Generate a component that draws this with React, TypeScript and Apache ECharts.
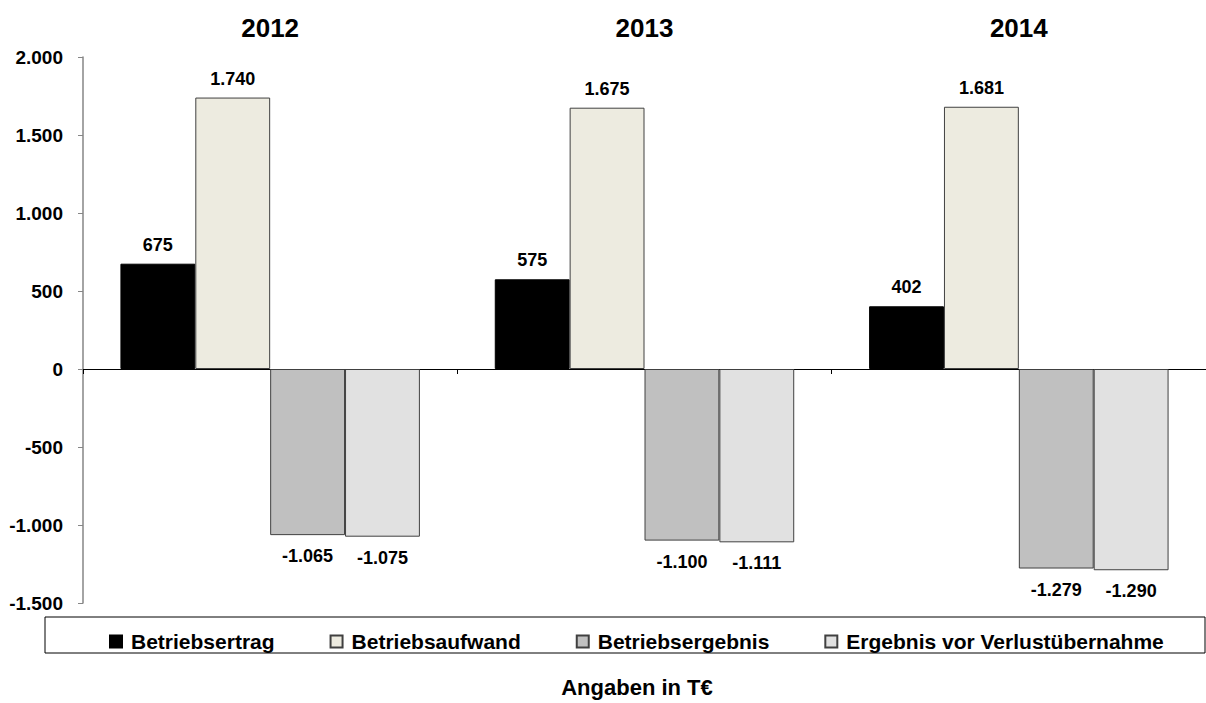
import React, { useEffect, useRef } from "react";
import * as echarts from "echarts";

const years = ["2012", "2013", "2014"];
const seriesNames = ["Betriebsertrag", "Betriebsaufwand", "Betriebsergebnis", "Ergebnis vor Verlustübernahme"];
const betriebsertrag = [675, 575, 402];
const betriebsaufwand = [1740, 1675, 1681];
const betriebsergebnis = [-1065, -1100, -1279];
const ergebnisVorVerlust = [-1075, -1111, -1290];
const seriesValues = [betriebsertrag, betriebsaufwand, betriebsergebnis, ergebnisVorVerlust];
const seriesColors = ["#000000", "#EDEBE0", "#C0C0C0", "#E1E1E1"];
const seriesBorders = ["#000000", "#404040", "#404040", "#404040"];

const FONT = "'Liberation Sans', Arial, sans-serif";

function fmt(v: number): string {
  const s = Math.abs(Math.round(v)).toString();
  const withDots = s.replace(/\B(?=(\d{3})+(?!\d))/g, ".");
  return (v < 0 ? "-" : "") + withDots;
}

export default function App() {
  const ref = useRef<HTMLDivElement>(null);
  useEffect(() => {
    if (!ref.current) return;
    const chart = echarts.init(ref.current, undefined, { renderer: "svg" });
    const series = seriesNames.map((name, i) => ({
      name,
      type: "bar",
      xAxisIndex: 0,
      barGap: "0%",
      barCategoryGap: "20%",
      itemStyle: { color: seriesColors[i], borderColor: seriesBorders[i], borderWidth: 1 },
      data: seriesValues[i].map((v) => ({
        value: v,
        label: { position: v < 0 ? "bottom" : "top", distance: v < 0 ? 12 : 10 },
      })),
      label: {
        show: true,
        fontFamily: FONT,
        fontWeight: "bold",
        fontSize: 18,
        color: "#000",
        formatter: (p: any) => fmt(p.value),
      },
    }));
    chart.setOption({
      animation: false,
      backgroundColor: "#ffffff",
      textStyle: { fontFamily: FONT },
      grid: { left: 83, right: 0, top: 57, bottom: 100 },
      legend: {
        data: seriesNames,
        top: 626,
        left: 104,
        itemWidth: 12,
        itemHeight: 12,
        itemGap: 55,
        icon: "rect",
        textStyle: { fontFamily: FONT, fontWeight: "bold", fontSize: 21, color: "#000", padding: [0, 0, 0, 4] },
      },
      graphic: [
        {
          type: "rect",
          shape: { x: 45, y: 617, width: 1160, height: 36 },
          style: { fill: "none", stroke: "#000", lineWidth: 1 },
          z: -1,
        },
        {
          type: "text",
          x: 637,
          y: 687,
          style: {
            text: "Angaben in T€",
            fontFamily: FONT,
            fontWeight: "bold",
            fontSize: 22,
            fill: "#000",
            align: "center",
            verticalAlign: "middle",
          },
        },
      ],
      xAxis: [
        {
          type: "category",
          data: years,
          position: "bottom",
          axisLine: { onZero: true, lineStyle: { color: "#000", width: 1 } },
          axisTick: { show: true, length: 5, lineStyle: { color: "#000" } },
          axisLabel: { show: false },
        },
        {
          type: "category",
          data: years,
          position: "top",
          axisLine: { show: false, onZero: false },
          axisTick: { show: false },
          axisLabel: {
            show: true,
            margin: 16,
            fontFamily: FONT,
            fontWeight: "bold",
            fontSize: 26,
            color: "#000",
          },
        },
      ],
      yAxis: {
        type: "value",
        min: -1500,
        max: 2000,
        interval: 500,
        splitLine: { show: false },
        axisLine: { show: true, lineStyle: { color: "#868686", width: 1.5 } },
        axisTick: { show: true, length: 5, lineStyle: { color: "#868686" } },
        axisLabel: {
          margin: 20,
          fontFamily: FONT,
          fontWeight: "bold",
          fontSize: 19,
          color: "#000",
          formatter: (v: number) => fmt(v),
        },
      },
      series,
    });
    return () => chart.dispose();
  }, []);
  return <div ref={ref} style={{ position: "fixed", left: 0, top: 0, width: 1206, height: 703 }} />;
}
